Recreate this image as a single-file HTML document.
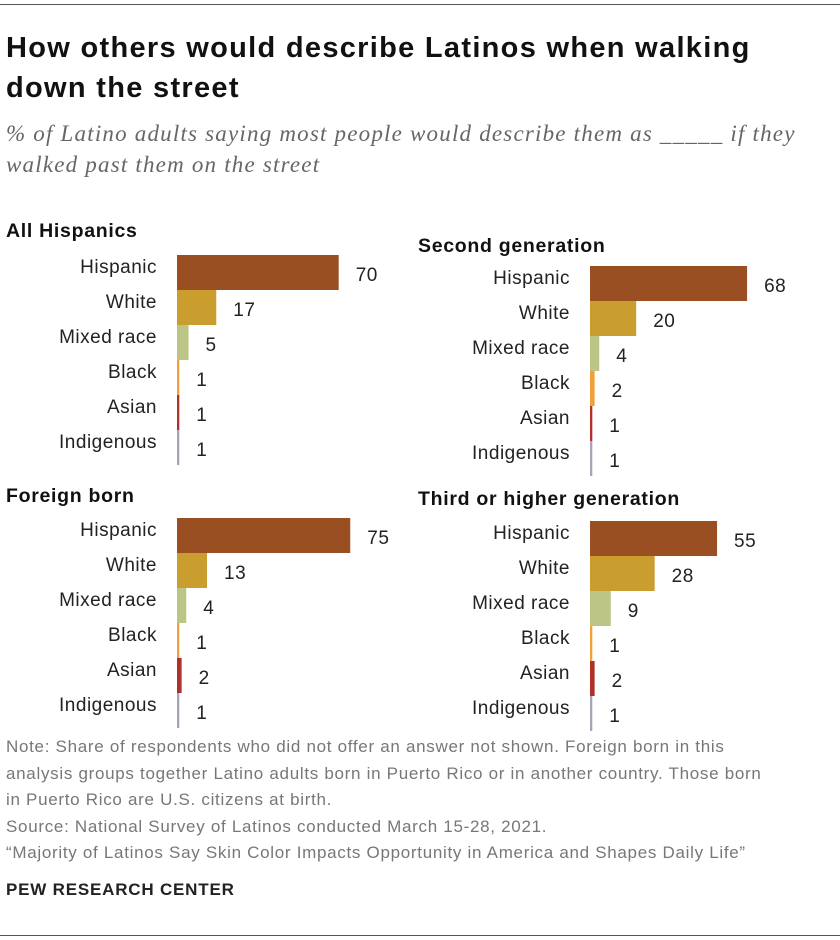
<!DOCTYPE html>
<html><head><meta charset="utf-8"><style>
body{margin:0;background:#fff;width:840px;height:940px;position:relative;font-family:"Liberation Sans",Arial,sans-serif;overflow:hidden}
.abs{position:absolute}
</style></head><body>
<div class="abs" style="left:0;top:4px;width:840px;height:1px;background:#555"></div>
<div class="abs" style="left:6px;top:28px;font-size:29px;letter-spacing:1.3px;font-weight:bold;line-height:40px;color:#111;white-space:nowrap">How others would describe Latinos when walking<br>down the street</div>
<div class="abs" style="left:6px;top:118px;font-family:'Liberation Serif',serif;font-style:italic;font-size:23px;letter-spacing:1.2px;line-height:31px;color:#666;white-space:nowrap">% of Latino adults saying most people would describe them as _____ if they<br>walked past them on the street</div>
<svg class="abs" style="left:0;top:0" width="840" height="940" id="chart"></svg>
<div class="abs" style="left:6px;top:734px;font-size:17px;letter-spacing:0.7px;line-height:26.5px;color:#777;white-space:nowrap">Note: Share of respondents who did not offer an answer not shown. Foreign born in this<br>analysis groups together Latino adults born in Puerto Rico or in another country. Those born<br>in Puerto Rico are U.S. citizens at birth.<br>Source: National Survey of Latinos conducted March 15-28, 2021.<br>“Majority of Latinos Say Skin Color Impacts Opportunity in America and Shapes Daily Life”</div>
<div class="abs" style="left:6px;top:880px;font-size:17px;letter-spacing:0.8px;font-weight:bold;color:#222">PEW RESEARCH CENTER</div>
<div class="abs" style="left:0;top:935px;width:840px;height:1px;background:#555"></div>
<script>
const categories=["Hispanic","White","Mixed race","Black","Asian","Indigenous"];
const panelTitles=["All Hispanics","Second generation","Foreign born","Third or higher generation"];
const allHispanics=[70,17,5,1,1,1];
const secondGen=[68,20,4,2,1,1];
const foreignBorn=[75,13,4,1,2,1];
const thirdGen=[55,28,9,1,2,1];
const colors=["#9a4f22","#c99e2e","#bcc585","#f0a03a","#b0302a","#a9a2bb"];
const panels=[
 {vals:allHispanics,x0:177,titleY:237,top:255},
 {vals:secondGen,x0:590,titleY:252,top:266},
 {vals:foreignBorn,x0:177,titleY:502,top:518},
 {vals:thirdGen,x0:590,titleY:505,top:521}];
const svg=document.getElementById('chart');
const NS='http://www.w3.org/2000/svg';
const scale=2.31,rowH=35;
function xs(v){return v*scale;}
panels.forEach((p,pi)=>{
 const t=document.createElementNS(NS,'text');
 
 
 t.setAttribute('x',pi%2?418:6);t.setAttribute('y',p.titleY);
 t.setAttribute('font-size','19.5');t.setAttribute('letter-spacing','0.7');t.setAttribute('font-weight','bold');t.setAttribute('fill','#111');
 t.textContent=panelTitles[pi];svg.appendChild(t);
 p.vals.forEach((v,i)=>{
  const y=p.top+i*rowH;
  const r=document.createElementNS(NS,'rect');
  
  
  r.setAttribute('x',p.x0);r.setAttribute('y',y);r.setAttribute('width',xs(v));r.setAttribute('height',rowH);
  r.setAttribute('fill',colors[i]);svg.appendChild(r);
  const l=document.createElementNS(NS,'text');
  
  
  l.setAttribute('x',p.x0-20);l.setAttribute('y',y+18);l.setAttribute('text-anchor','end');
  l.setAttribute('font-size','19');l.setAttribute('letter-spacing','0.5');l.setAttribute('fill','#222');
  l.textContent=categories[i];svg.appendChild(l);
  const vt=document.createElementNS(NS,'text');
  
  
  vt.setAttribute('x',p.x0+xs(v)+17);vt.setAttribute('y',y+26);
  vt.setAttribute('font-size','19');vt.setAttribute('letter-spacing','0.5');vt.setAttribute('fill','#222');
  vt.textContent=v;svg.appendChild(vt);
 });
});
</script>
</body></html>
